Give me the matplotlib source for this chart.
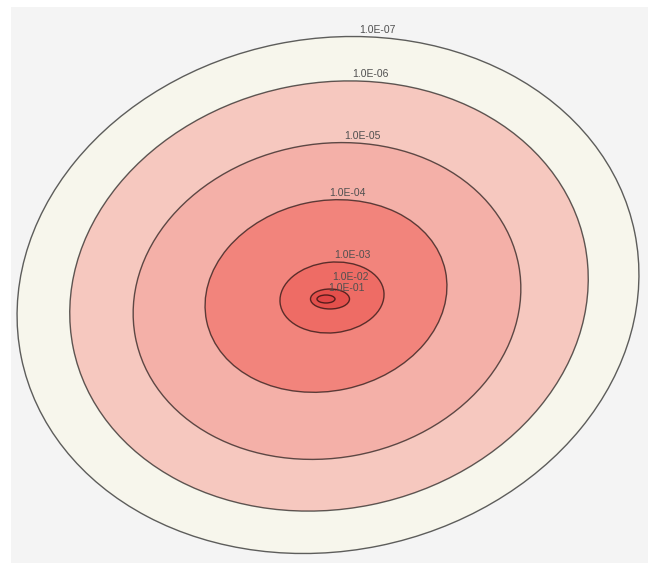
import numpy as np
import matplotlib.pyplot as plt
from matplotlib.patches import Ellipse

# contour levels and the ellipse fitted to each iso-line (units: m on the map grid)
levels = [1e-7, 1e-6, 1e-5, 1e-4, 1e-3, 1e-2, 1e-1]
center_x = [328, 329, 327, 326, 332, 330, 326]
center_y = [295, 296, 301, 296, 297.5, 299, 299]
semi_major = [313, 261, 195, 122, 52.2, 19.5, 9]
semi_minor = [256, 213, 157, 95, 35.3, 10, 4]
tilt_deg = [11.5, 11.5, 10.5, 12, 6, 0, 0]

# fill inside each level
band_colors = ['#f7f6ec', '#f6c8bf', '#f4b0a8', '#f2847c',
               '#ee6c65', '#e4504c', '#e04646']

plt.rcParams['font.family'] = ['Liberation Sans', 'DejaVu Sans']

fig = plt.figure(figsize=(6.48, 5.63), dpi=100)
fig.patch.set_facecolor('white')
ax = fig.add_axes([11 / 648, 0, 1 - 11 / 648, 1 - 7 / 563])
ax.set_facecolor('#f4f4f4')
ax.set_xlim(11, 648)
ax.set_ylim(563, 7)
ax.set_xticks([])
ax.set_yticks([])
for s in ax.spines.values():
    s.set_visible(False)

t_lab = np.deg2rad(72)
lab_x, lab_y = [], []
for i, lvl in enumerate(levels):
    cx, cy = center_x[i], center_y[i]
    a, b = semi_major[i], semi_minor[i]
    th = np.deg2rad(tilt_deg[i])
    # y axis points down, so a visual counter-clockwise tilt is a negative angle
    e = Ellipse((cx, cy), 2 * a, 2 * b, angle=-tilt_deg[i],
                facecolor=band_colors[i], edgecolor=(0, 0, 0, 0.62),
                linewidth=1.0, zorder=2 + i)
    ax.add_patch(e)

    # label spot on the line near the top of the ellipse
    lx = cx + a * np.cos(t_lab) * np.cos(th) - b * np.sin(t_lab) * np.sin(th)
    ly = cy - (a * np.cos(t_lab) * np.sin(th) + b * np.sin(t_lab) * np.cos(th))
    lab_x.append(max(lx + 3, cx + 20))
    lab_y.append(ly - 2)

# push labels up so the small inner ones don't sit on top of each other
for i in range(len(levels) - 2, -1, -1):
    lab_y[i] = min(lab_y[i], lab_y[i + 1] - 11)

for i, lvl in enumerate(levels):
    ax.text(lab_x[i], lab_y[i], f'{lvl:.1E}', fontsize=7.5, color='#505050',
            ha='center', va='bottom', zorder=20)

fig.savefig('out.png', dpi=100)
